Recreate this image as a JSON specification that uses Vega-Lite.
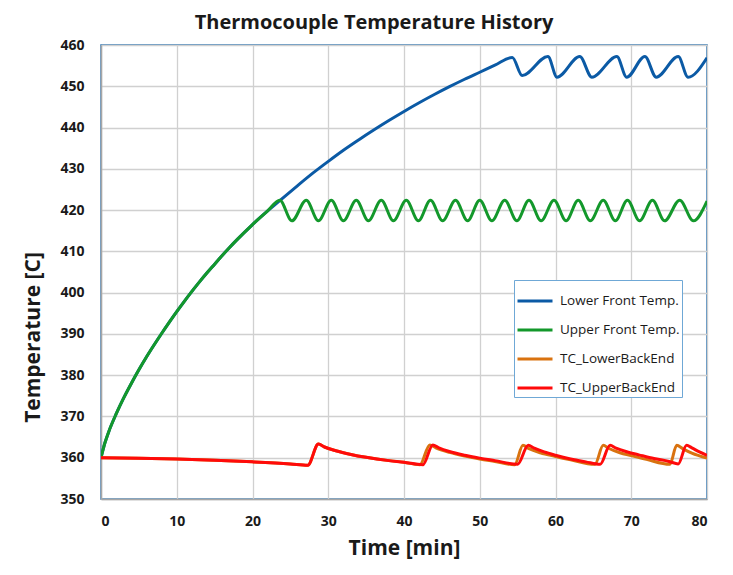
{
  "$schema": "https://vega.github.io/schema/vega-lite/v6.json",
  "width": 606,
  "height": 454,
  "autosize": {"type": "none"},
  "padding": {"left": 101, "top": 45, "right": 26, "bottom": 76},
  "background": "white",
  "title": {"text": "Thermocouple Temperature History", "font": "Open Sans", "fontSize": 20, "fontWeight": "bold", "color": "#1a1a1a", "anchor": "middle", "frame": "group", "dx": -30, "baseline": "alphabetic", "offset": -11},
  "config": {
    "view": {"stroke": "#2a72b0", "strokeWidth": 1.5},
    "axis": {"labelFont": "Open Sans", "labelFontSize": 14, "labelFontWeight": "bold", "labelColor": "#1a1a1a", "ticks": false, "domainColor": "#a6a6a6", "domainWidth": 1.5, "gridColor": "#d0d0d0", "gridWidth": 1.3, "titleFont": "Open Sans", "titleFontSize": 21, "titleFontWeight": "bold", "titleColor": "#1a1a1a"}
  },
  "data": {"values": [
    {"s": "Lower Front Temp.", "t": 0, "v": 360},
    {"s": "Lower Front Temp.", "t": 0.5, "v": 363.5},
    {"s": "Lower Front Temp.", "t": 1, "v": 366.2},
    {"s": "Lower Front Temp.", "t": 2, "v": 370.6},
    {"s": "Lower Front Temp.", "t": 3, "v": 374.5},
    {"s": "Lower Front Temp.", "t": 4, "v": 378.0},
    {"s": "Lower Front Temp.", "t": 5, "v": 381.3},
    {"s": "Lower Front Temp.", "t": 6, "v": 384.4},
    {"s": "Lower Front Temp.", "t": 7, "v": 387.3},
    {"s": "Lower Front Temp.", "t": 8, "v": 390.1},
    {"s": "Lower Front Temp.", "t": 9, "v": 392.8},
    {"s": "Lower Front Temp.", "t": 10, "v": 395.4},
    {"s": "Lower Front Temp.", "t": 11, "v": 397.9},
    {"s": "Lower Front Temp.", "t": 12, "v": 400.3},
    {"s": "Lower Front Temp.", "t": 13, "v": 402.6},
    {"s": "Lower Front Temp.", "t": 14, "v": 404.8},
    {"s": "Lower Front Temp.", "t": 15, "v": 406.9},
    {"s": "Lower Front Temp.", "t": 16, "v": 409.0},
    {"s": "Lower Front Temp.", "t": 17, "v": 411.0},
    {"s": "Lower Front Temp.", "t": 18, "v": 412.9},
    {"s": "Lower Front Temp.", "t": 20, "v": 416.5},
    {"s": "Lower Front Temp.", "t": 22, "v": 419.8},
    {"s": "Lower Front Temp.", "t": 23.6, "v": 422.3},
    {"s": "Lower Front Temp.", "t": 26, "v": 426.0},
    {"s": "Lower Front Temp.", "t": 28, "v": 429.0},
    {"s": "Lower Front Temp.", "t": 30, "v": 431.8},
    {"s": "Lower Front Temp.", "t": 32, "v": 434.5},
    {"s": "Lower Front Temp.", "t": 34, "v": 437.0},
    {"s": "Lower Front Temp.", "t": 36, "v": 439.4},
    {"s": "Lower Front Temp.", "t": 38, "v": 441.7},
    {"s": "Lower Front Temp.", "t": 40, "v": 443.9},
    {"s": "Lower Front Temp.", "t": 42, "v": 446.0},
    {"s": "Lower Front Temp.", "t": 44, "v": 448.0},
    {"s": "Lower Front Temp.", "t": 46, "v": 449.9},
    {"s": "Lower Front Temp.", "t": 48, "v": 451.7},
    {"s": "Lower Front Temp.", "t": 50, "v": 453.4},
    {"s": "Lower Front Temp.", "t": 52, "v": 455.1},
    {"s": "Lower Front Temp.", "t": 54.3, "v": 457.0},
    {"s": "Lower Front Temp.", "t": 55.6, "v": 452.6},
    {"s": "Lower Front Temp.", "t": 59.0, "v": 457.2},
    {"s": "Lower Front Temp.", "t": 60.2, "v": 452.2},
    {"s": "Lower Front Temp.", "t": 63.2, "v": 457.2},
    {"s": "Lower Front Temp.", "t": 64.8, "v": 452.2},
    {"s": "Lower Front Temp.", "t": 68.1, "v": 457.2},
    {"s": "Lower Front Temp.", "t": 69.4, "v": 452.2},
    {"s": "Lower Front Temp.", "t": 71.8, "v": 457.2},
    {"s": "Lower Front Temp.", "t": 73.3, "v": 452.2},
    {"s": "Lower Front Temp.", "t": 76.2, "v": 457.2},
    {"s": "Lower Front Temp.", "t": 77.5, "v": 452.2},
    {"s": "Lower Front Temp.", "t": 80, "v": 456.9},

    {"s": "Upper Front Temp.", "t": 0, "v": 360},
    {"s": "Upper Front Temp.", "t": 0.5, "v": 363.5},
    {"s": "Upper Front Temp.", "t": 1, "v": 366.2},
    {"s": "Upper Front Temp.", "t": 2, "v": 370.6},
    {"s": "Upper Front Temp.", "t": 3, "v": 374.5},
    {"s": "Upper Front Temp.", "t": 4, "v": 378.0},
    {"s": "Upper Front Temp.", "t": 5, "v": 381.3},
    {"s": "Upper Front Temp.", "t": 6, "v": 384.4},
    {"s": "Upper Front Temp.", "t": 7, "v": 387.3},
    {"s": "Upper Front Temp.", "t": 8, "v": 390.1},
    {"s": "Upper Front Temp.", "t": 9, "v": 392.8},
    {"s": "Upper Front Temp.", "t": 10, "v": 395.4},
    {"s": "Upper Front Temp.", "t": 11, "v": 397.9},
    {"s": "Upper Front Temp.", "t": 12, "v": 400.3},
    {"s": "Upper Front Temp.", "t": 13, "v": 402.6},
    {"s": "Upper Front Temp.", "t": 14, "v": 404.8},
    {"s": "Upper Front Temp.", "t": 15, "v": 406.9},
    {"s": "Upper Front Temp.", "t": 16, "v": 409.0},
    {"s": "Upper Front Temp.", "t": 17, "v": 411.0},
    {"s": "Upper Front Temp.", "t": 18, "v": 412.9},
    {"s": "Upper Front Temp.", "t": 20, "v": 416.5},
    {"s": "Upper Front Temp.", "t": 22, "v": 419.8},
    {"s": "Upper Front Temp.", "t": 23.6, "v": 422.4},
    {"s": "Upper Front Temp.", "t": 25.2, "v": 417.4},
    {"s": "Upper Front Temp.", "t": 27.1, "v": 422.4},
    {"s": "Upper Front Temp.", "t": 28.7, "v": 417.4},
    {"s": "Upper Front Temp.", "t": 30.4, "v": 422.4},
    {"s": "Upper Front Temp.", "t": 32.0, "v": 417.4},
    {"s": "Upper Front Temp.", "t": 33.7, "v": 422.4},
    {"s": "Upper Front Temp.", "t": 35.3, "v": 417.4},
    {"s": "Upper Front Temp.", "t": 37.0, "v": 422.4},
    {"s": "Upper Front Temp.", "t": 38.6, "v": 417.4},
    {"s": "Upper Front Temp.", "t": 40.3, "v": 422.4},
    {"s": "Upper Front Temp.", "t": 41.9, "v": 417.4},
    {"s": "Upper Front Temp.", "t": 43.5, "v": 422.4},
    {"s": "Upper Front Temp.", "t": 45.1, "v": 417.4},
    {"s": "Upper Front Temp.", "t": 46.8, "v": 422.4},
    {"s": "Upper Front Temp.", "t": 48.4, "v": 417.4},
    {"s": "Upper Front Temp.", "t": 50.0, "v": 422.4},
    {"s": "Upper Front Temp.", "t": 51.6, "v": 417.4},
    {"s": "Upper Front Temp.", "t": 53.3, "v": 422.4},
    {"s": "Upper Front Temp.", "t": 54.9, "v": 417.4},
    {"s": "Upper Front Temp.", "t": 56.5, "v": 422.4},
    {"s": "Upper Front Temp.", "t": 58.1, "v": 417.4},
    {"s": "Upper Front Temp.", "t": 59.8, "v": 422.4},
    {"s": "Upper Front Temp.", "t": 61.4, "v": 417.4},
    {"s": "Upper Front Temp.", "t": 63.0, "v": 422.4},
    {"s": "Upper Front Temp.", "t": 64.6, "v": 417.4},
    {"s": "Upper Front Temp.", "t": 66.3, "v": 422.4},
    {"s": "Upper Front Temp.", "t": 67.9, "v": 417.4},
    {"s": "Upper Front Temp.", "t": 69.5, "v": 422.4},
    {"s": "Upper Front Temp.", "t": 71.1, "v": 417.4},
    {"s": "Upper Front Temp.", "t": 72.8, "v": 422.4},
    {"s": "Upper Front Temp.", "t": 74.4, "v": 417.4},
    {"s": "Upper Front Temp.", "t": 76.4, "v": 422.4},
    {"s": "Upper Front Temp.", "t": 78.2, "v": 417.4},
    {"s": "Upper Front Temp.", "t": 80, "v": 422.2},

    {"s": "TC_LowerBackEnd", "t": 0, "v": 360},
    {"s": "TC_LowerBackEnd", "t": 5, "v": 359.9},
    {"s": "TC_LowerBackEnd", "t": 10, "v": 359.7},
    {"s": "TC_LowerBackEnd", "t": 15, "v": 359.4},
    {"s": "TC_LowerBackEnd", "t": 20, "v": 359.0},
    {"s": "TC_LowerBackEnd", "t": 25, "v": 358.5},
    {"s": "TC_LowerBackEnd", "t": 27.3, "v": 358.2},
    {"s": "TC_LowerBackEnd", "t": 28.7, "v": 363.3},
    {"s": "TC_LowerBackEnd", "t": 29.5, "v": 362.6},
    {"s": "TC_LowerBackEnd", "t": 31, "v": 361.7},
    {"s": "TC_LowerBackEnd", "t": 33, "v": 360.8},
    {"s": "TC_LowerBackEnd", "t": 35, "v": 360.1},
    {"s": "TC_LowerBackEnd", "t": 38, "v": 359.3},
    {"s": "TC_LowerBackEnd", "t": 40, "v": 358.9},
    {"s": "TC_LowerBackEnd", "t": 42.1, "v": 358.3},
    {"s": "TC_LowerBackEnd", "t": 43.4, "v": 363.1},
    {"s": "TC_LowerBackEnd", "t": 44.2, "v": 362.4},
    {"s": "TC_LowerBackEnd", "t": 46, "v": 361.3},
    {"s": "TC_LowerBackEnd", "t": 48, "v": 360.4},
    {"s": "TC_LowerBackEnd", "t": 50, "v": 359.7},
    {"s": "TC_LowerBackEnd", "t": 52, "v": 359.1},
    {"s": "TC_LowerBackEnd", "t": 54.6, "v": 358.3},
    {"s": "TC_LowerBackEnd", "t": 55.7, "v": 363.0},
    {"s": "TC_LowerBackEnd", "t": 56.5, "v": 362.2},
    {"s": "TC_LowerBackEnd", "t": 58, "v": 361.2},
    {"s": "TC_LowerBackEnd", "t": 60, "v": 360.3},
    {"s": "TC_LowerBackEnd", "t": 62, "v": 359.5},
    {"s": "TC_LowerBackEnd", "t": 65.2, "v": 358.4},
    {"s": "TC_LowerBackEnd", "t": 66.3, "v": 363.0},
    {"s": "TC_LowerBackEnd", "t": 67, "v": 362.3},
    {"s": "TC_LowerBackEnd", "t": 68.5, "v": 361.2},
    {"s": "TC_LowerBackEnd", "t": 70, "v": 360.5},
    {"s": "TC_LowerBackEnd", "t": 72, "v": 359.6},
    {"s": "TC_LowerBackEnd", "t": 75.1, "v": 358.4},
    {"s": "TC_LowerBackEnd", "t": 76.0, "v": 363.0},
    {"s": "TC_LowerBackEnd", "t": 76.8, "v": 362.2},
    {"s": "TC_LowerBackEnd", "t": 78, "v": 361.1},
    {"s": "TC_LowerBackEnd", "t": 80, "v": 359.9},

    {"s": "TC_UpperBackEnd", "t": 0, "v": 360},
    {"s": "TC_UpperBackEnd", "t": 5, "v": 359.9},
    {"s": "TC_UpperBackEnd", "t": 10, "v": 359.7},
    {"s": "TC_UpperBackEnd", "t": 15, "v": 359.4},
    {"s": "TC_UpperBackEnd", "t": 20, "v": 359.0},
    {"s": "TC_UpperBackEnd", "t": 25, "v": 358.5},
    {"s": "TC_UpperBackEnd", "t": 27.3, "v": 358.2},
    {"s": "TC_UpperBackEnd", "t": 28.7, "v": 363.3},
    {"s": "TC_UpperBackEnd", "t": 29.5, "v": 362.6},
    {"s": "TC_UpperBackEnd", "t": 31, "v": 361.7},
    {"s": "TC_UpperBackEnd", "t": 33, "v": 360.8},
    {"s": "TC_UpperBackEnd", "t": 35, "v": 360.1},
    {"s": "TC_UpperBackEnd", "t": 38, "v": 359.3},
    {"s": "TC_UpperBackEnd", "t": 40, "v": 358.9},
    {"s": "TC_UpperBackEnd", "t": 42.5, "v": 358.3},
    {"s": "TC_UpperBackEnd", "t": 43.8, "v": 363.1},
    {"s": "TC_UpperBackEnd", "t": 44.6, "v": 362.4},
    {"s": "TC_UpperBackEnd", "t": 46, "v": 361.5},
    {"s": "TC_UpperBackEnd", "t": 48, "v": 360.6},
    {"s": "TC_UpperBackEnd", "t": 50, "v": 359.9},
    {"s": "TC_UpperBackEnd", "t": 52, "v": 359.3},
    {"s": "TC_UpperBackEnd", "t": 55, "v": 358.4},
    {"s": "TC_UpperBackEnd", "t": 56.4, "v": 363.0},
    {"s": "TC_UpperBackEnd", "t": 57.2, "v": 362.3},
    {"s": "TC_UpperBackEnd", "t": 58.5, "v": 361.4},
    {"s": "TC_UpperBackEnd", "t": 60, "v": 360.6},
    {"s": "TC_UpperBackEnd", "t": 62, "v": 359.7},
    {"s": "TC_UpperBackEnd", "t": 64, "v": 359.0},
    {"s": "TC_UpperBackEnd", "t": 65.9, "v": 358.4},
    {"s": "TC_UpperBackEnd", "t": 67.2, "v": 363.0},
    {"s": "TC_UpperBackEnd", "t": 68, "v": 362.3},
    {"s": "TC_UpperBackEnd", "t": 69.5, "v": 361.4},
    {"s": "TC_UpperBackEnd", "t": 71, "v": 360.7},
    {"s": "TC_UpperBackEnd", "t": 73, "v": 359.8},
    {"s": "TC_UpperBackEnd", "t": 75, "v": 359.1},
    {"s": "TC_UpperBackEnd", "t": 76.2, "v": 358.5},
    {"s": "TC_UpperBackEnd", "t": 77.3, "v": 363.0},
    {"s": "TC_UpperBackEnd", "t": 78, "v": 362.4},
    {"s": "TC_UpperBackEnd", "t": 79, "v": 361.4},
    {"s": "TC_UpperBackEnd", "t": 80, "v": 360.6}
  ]},
  "mark": {"type": "line", "strokeWidth": 3, "interpolate": "monotone", "clip": true},
  "encoding": {
    "x": {"field": "t", "type": "quantitative", "scale": {"domain": [0, 80], "nice": false},
      "axis": {"values": [0, 10, 20, 30, 40, 50, 60, 70, 80], "title": "Time [min]", "labelPadding": 15, "titlePadding": 9, "format": "d"}},
    "y": {"field": "v", "type": "quantitative", "scale": {"domain": [350, 460], "nice": false, "zero": false},
      "axis": {"values": [350, 360, 370, 380, 390, 400, 410, 420, 430, 440, 450, 460], "title": "Temperature [C]", "labelPadding": 17, "titlePadding": 16, "titleY": 292, "format": "d"}},
    "color": {"field": "s", "type": "nominal",
      "scale": {"domain": ["Lower Front Temp.", "Upper Front Temp.", "TC_LowerBackEnd", "TC_UpperBackEnd"], "range": ["#0b5aa5", "#13982b", "#d9720f", "#ff0a0a"]},
      "legend": {"orient": "none", "legendX": 413, "legendY": 235, "title": null, "symbolType": "stroke", "symbolSize": 1225, "symbolStrokeWidth": 3, "labelFont": "Open Sans", "labelFontSize": 13.5, "labelColor": "#1a1a1a", "labelOffset": 6, "fillColor": "white", "strokeColor": "#6fa8d6", "padding": 2, "rowPadding": 3}}
  }
}
